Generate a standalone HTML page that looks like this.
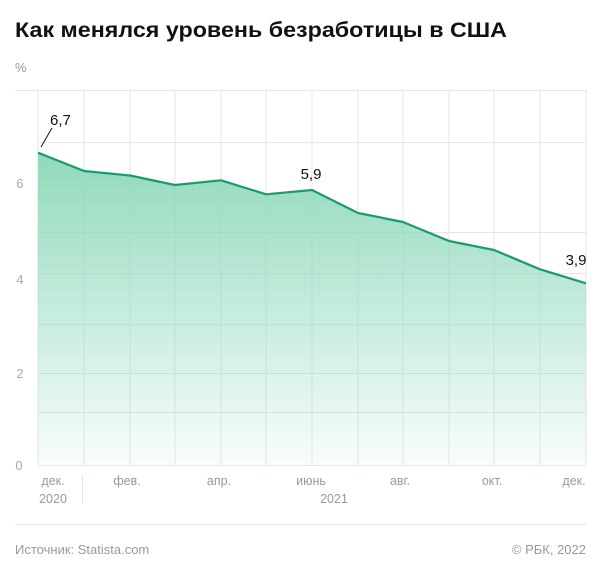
<!DOCTYPE html>
<html><head><meta charset="utf-8"><style>
html,body{margin:0;padding:0;background:#fff;}
svg{display:block;font-family:"Liberation Sans",Arial,sans-serif;}
</style></head><body>
<svg width="600" height="573" viewBox="0 0 600 573" xmlns="http://www.w3.org/2000/svg">
<defs>
<linearGradient id="g" x1="0" y1="150" x2="0" y2="465" gradientUnits="userSpaceOnUse">
<stop offset="0" stop-color="#8fd9bb"/>
<stop offset="1" stop-color="#8fd9bb" stop-opacity="0.05"/>
</linearGradient>
</defs>
<text x="15" y="37" font-size="21" font-weight="bold" fill="#111" textLength="492" lengthAdjust="spacingAndGlyphs">Как менялся уровень безработицы в США</text>
<text x="15" y="72" font-size="13" fill="#999">%</text>
<g stroke="#e6e6e6" stroke-width="1">
<line x1="15" y1="90.5" x2="586" y2="90.5"/>
<line x1="38" y1="142.5" x2="586" y2="142.5"/>
<line x1="38" y1="232.5" x2="586" y2="232.5"/>
<line x1="38" y1="273.5" x2="586" y2="273.5"/>
<line x1="38" y1="324.5" x2="586" y2="324.5"/>
<line x1="38" y1="373.5" x2="586" y2="373.5"/>
<line x1="38" y1="412.5" x2="586" y2="412.5"/>
<line x1="38" y1="465.5" x2="586" y2="465.5"/>
<g>
<line x1="38" y1="90" x2="38" y2="465"/><line x1="84" y1="90" x2="84" y2="465"/><line x1="130" y1="90" x2="130" y2="465"/><line x1="175" y1="90" x2="175" y2="465"/><line x1="221" y1="90" x2="221" y2="465"/><line x1="266" y1="90" x2="266" y2="465"/><line x1="312" y1="90" x2="312" y2="465"/><line x1="358" y1="90" x2="358" y2="465"/><line x1="403" y1="90" x2="403" y2="465"/><line x1="449" y1="90" x2="449" y2="465"/><line x1="494" y1="90" x2="494" y2="465"/><line x1="540" y1="90" x2="540" y2="465"/><line x1="586" y1="90" x2="586" y2="465"/>
</g>
<line x1="82.5" y1="475" x2="82.5" y2="504"/>
<line x1="15" y1="524.5" x2="586" y2="524.5"/>
</g>
<path d="M38,152.7 L84,171 L130,175.5 L175,185 L221,180.3 L266,194.3 L312,190 L358,213 L403,222 L449,241 L494,250 L540,269.3 L586,283.3 L586,465 L38,465 Z" fill="url(#g)"/>
<polyline points="38,152.7 84,171 130,175.5 175,185 221,180.3 266,194.3 312,190 358,213 403,222 449,241 494,250 540,269.3 586,283.3" fill="none" stroke="#1a9b6e" stroke-width="2.2" stroke-linejoin="round"/>
<line x1="41" y1="147" x2="52" y2="128" stroke="#111" stroke-width="1"/>
<g font-size="15" fill="#111">
<text x="50" y="125">6,7</text>
<text x="311" y="179" text-anchor="middle">5,9</text>
<text x="576" y="265" text-anchor="middle">3,9</text>
</g>
<g font-size="13" fill="#aaa" text-anchor="middle">
<text x="20" y="188">6</text>
<text x="20" y="284">4</text>
<text x="20" y="378">2</text>
<text x="19" y="470">0</text>
</g>
<g font-size="12.5" fill="#999" text-anchor="middle">
<text x="53" y="485">дек.</text>
<text x="53" y="503">2020</text>
<text x="127" y="485">фев.</text>
<text x="219" y="485">апр.</text>
<text x="311" y="485">июнь</text>
<text x="400" y="485">авг.</text>
<text x="492" y="485">окт.</text>
<text x="574" y="485">дек.</text>
<text x="334" y="503">2021</text>
</g>
<text x="15" y="554" font-size="13" fill="#999">Источник: Statista.com</text>
<text x="586" y="554" font-size="13" fill="#999" text-anchor="end">© РБК, 2022</text>
</svg>
</body></html>
